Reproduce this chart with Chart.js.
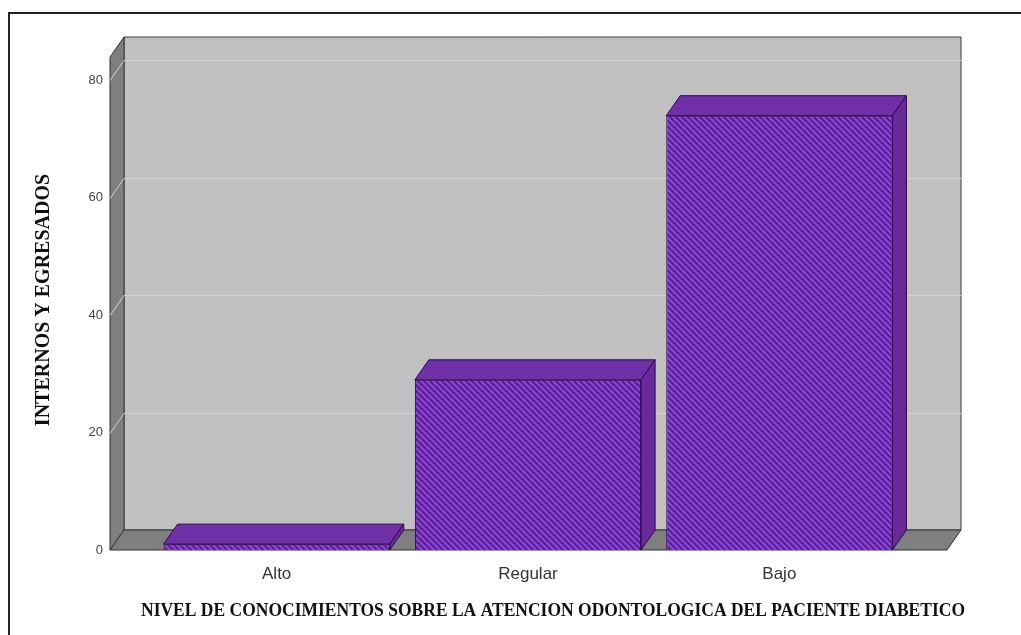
<!DOCTYPE html>
<html>
<head>
<meta charset="utf-8">
<script src="https://cdn.jsdelivr.net/npm/chart.js@4"></script>
<style>
  body { margin: 0; background: #fff; overflow: hidden; }
  #frame { position: absolute; left: 8px; top: 12px; width: 1100px; height: 700px;
           border-left: 2px solid #222; border-top: 2px solid #222; }
  #wrap { position: absolute; left: 0; top: 0; width: 1021px; height: 635px; }
</style>
</head>
<body>
<div id="frame"></div>
<div id="wrap"><canvas id="barChart" width="1021" height="635"></canvas></div>
<script>
// data
const categories = ['Alto', 'Regular', 'Bajo'];
const counts = [1, 29, 74];
const yTicks = [0, 20, 40, 60, 80];
const yTitle = 'INTERNOS Y EGRESADOS';
const xTitle = 'NIVEL DE CONOCIMIENTOS SOBRE LA ATENCION ODONTOLOGICA DEL PACIENTE DIABETICO';

// 3D look
const DX = 14, DY = 20;
const WALL_LEFT = 41, WALL_RIGHT = 42;

// diagonal hatch for the bar fronts, drawn pixel by pixel so there are no seams
function makeHatch() {
    const n = 6;
    const c = document.createElement('canvas');
    c.width = n; c.height = n;
    const g = c.getContext('2d');
    for (let i = 0; i < n; i++) {
        for (let j = 0; j < n; j++) {
            const k = ((i - j) % n + n) % n;
            g.fillStyle = k < 3 ? '#5c2398' : '#8e43d8';
            g.fillRect(i, j, 1, 1);
        }
    }
    return g.createPattern(c, 'repeat');
}

function poly(ctx, pts, fill, stroke) {
    ctx.beginPath();
    ctx.moveTo(pts[0][0], pts[0][1]);
    for (let i = 1; i < pts.length; i++) ctx.lineTo(pts[i][0], pts[i][1]);
    ctx.closePath();
    ctx.fillStyle = fill;
    ctx.fill();
    if (stroke) {
        ctx.strokeStyle = stroke;
        ctx.lineWidth = 1;
        ctx.stroke();
    }
}

const boxPlugin = {
    id: 'box3d',
    beforeDatasetsDraw(chart) {
        const ctx = chart.ctx;
        const a = chart.chartArea;
        const y = chart.scales.y;
        const fl = a.left - WALL_LEFT, fr = a.right + WALL_RIGHT;
        const top = a.top, bot = a.bottom;
        ctx.save();
        // back wall
        poly(ctx, [[fl + DX, top - DY], [fr + DX, top - DY], [fr + DX, bot - DY], [fl + DX, bot - DY]], '#c0c0c0', '#404040');
        // left wall
        poly(ctx, [[fl, top], [fl + DX, top - DY], [fl + DX, bot - DY], [fl, bot]], '#7f7f7f', '#333');
        // floor
        poly(ctx, [[fl, bot], [fl + DX, bot - DY], [fr + DX, bot - DY], [fr, bot]], '#7f7f7f', '#333');
        // grid lines
        ctx.lineWidth = 1;
        yTicks.forEach(v => {
            if (v === 0) return;
            const py = Math.round(y.getPixelForValue(v)) + 0.5;
            ctx.strokeStyle = '#d2d2d2';
            ctx.beginPath();
            ctx.moveTo(fl + DX, py - DY);
            ctx.lineTo(fr + DX, py - DY);
            ctx.stroke();
            ctx.beginPath();
            ctx.moveTo(fl, py);
            ctx.lineTo(fl + DX, py - DY);
            ctx.stroke();
        });
        ctx.restore();
    },
    afterDatasetsDraw(chart) {
        const ctx = chart.ctx;
        ctx.save();
        chart.getDatasetMeta(0).data.forEach(bar => {
            const l = bar.x - bar.width / 2, r = bar.x + bar.width / 2;
            const t = bar.y, b = bar.base;
            // top face
            poly(ctx, [[l, t], [l + DX, t - DY], [r + DX, t - DY], [r, t]], '#7030a8', '#2a0a4a');
            // side face
            poly(ctx, [[r, t], [r + DX, t - DY], [r + DX, b - DY], [r, b]], '#6a2a9e', '#2a0a4a');
        });
        ctx.restore();
    },
    afterDraw(chart) {
        const ctx = chart.ctx;
        const a = chart.chartArea;
        ctx.save();
        ctx.fillStyle = '#111';
        ctx.textAlign = 'center';
        ctx.textBaseline = 'middle';
        ctx.font = 'bold 20px "Liberation Serif", "DejaVu Serif", serif';
        ctx.translate(44, 300);
        ctx.rotate(-Math.PI / 2);
        ctx.fillText(yTitle, 0, 0, 256);
        ctx.restore();
        ctx.save();
        ctx.fillStyle = '#111';
        ctx.textAlign = 'center';
        ctx.textBaseline = 'middle';
        ctx.font = 'bold 19px "Liberation Serif", "DejaVu Serif", serif';
        ctx.fillText(xTitle, 553, 611, 824);
        ctx.restore();
    }
};

new Chart(document.getElementById('barChart').getContext('2d'), {
    type: 'bar',
    data: {
        labels: categories,
        datasets: [{
            data: counts,
            backgroundColor: makeHatch(),
            borderColor: '#2a0a4a',
            borderWidth: 1,
            barPercentage: 0.9,
            categoryPercentage: 1.0
        }]
    },
    options: {
        responsive: false,
        animation: false,
        devicePixelRatio: 1,
        layout: { padding: { top: 57, right: 116, left: 0, bottom: 0 } },
        plugins: {
            legend: { display: false },
            tooltip: { enabled: false }
        },
        scales: {
            x: {
                afterFit: s => { s.height = 85; },
                grid: { display: false, drawTicks: false },
                border: { display: false },
                ticks: { padding: 14, color: '#333', font: { family: 'Liberation Sans, Arial, sans-serif', size: 17 } }
            },
            y: {
                min: 0,
                max: 84,
                afterFit: s => { s.width = 151; },
                afterBuildTicks: s => { s.ticks = yTicks.map(v => ({ value: v })); },
                grid: { display: false, drawTicks: false },
                border: { display: false },
                ticks: { padding: 48, color: '#444', font: { family: 'Liberation Sans, Arial, sans-serif', size: 13 } }
            }
        }
    },
    plugins: [boxPlugin]
});
</script>
</body>
</html>
